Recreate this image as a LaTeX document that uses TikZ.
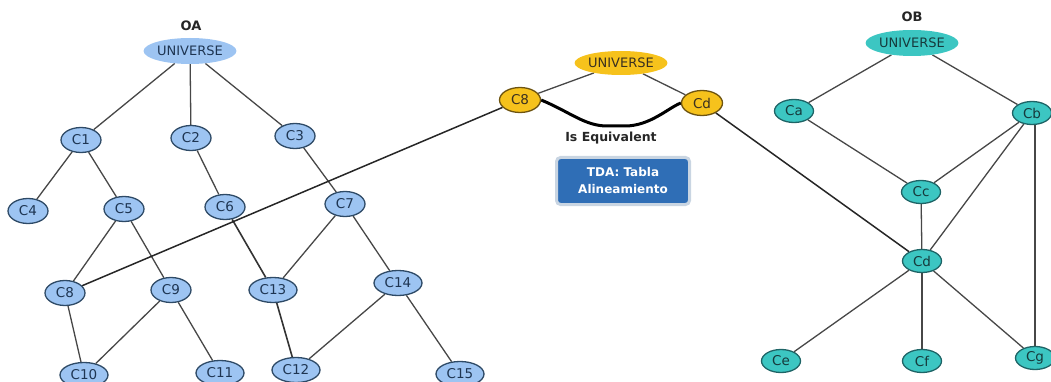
\documentclass[tikz,border=0pt]{standalone}
\usepackage{fontspec}
\setmainfont{DejaVu Sans}
\usetikzlibrary{shapes.geometric,backgrounds}

\definecolor{oafill}{HTML}{9DC4F2}
\definecolor{oadraw}{HTML}{2E4A66}
\definecolor{oatext}{HTML}{1E3552}
\definecolor{obfill}{HTML}{3CC6C2}
\definecolor{obdraw}{HTML}{1E6466}
\definecolor{obtext}{HTML}{163A3C}
\definecolor{alfill}{HTML}{F6C21C}
\definecolor{aldraw}{HTML}{6E5410}
\definecolor{altext}{HTML}{3A3020}
\definecolor{edgecol}{HTML}{474747}
\definecolor{tdafill}{HTML}{2F6EB6}
\definecolor{tdaedge}{HTML}{C9D5E2}

\tikzset{
  cls/.style={ellipse, inner sep=0pt, minimum height=25pt, line width=1.3pt,
    font=\fontsize{13.5}{15}\selectfont},
  oa/.style={cls, fill=oafill, draw=oadraw, text=oatext, minimum width=40pt},
  oaw/.style={oa, minimum width=48pt},
  ob/.style={cls, fill=obfill, draw=obdraw, text=obtext, minimum width=39pt, minimum height=23pt},
  al/.style={cls, fill=alfill, draw=aldraw, text=altext, minimum width=41pt},
  root/.style={ellipse, inner sep=0pt, minimum width=80pt, minimum height=26pt,
    fill=#1, font=\fontsize{13}{15}\selectfont},
  title/.style={font=\bfseries\fontsize{13}{15}\selectfont, text=black!85},
  edge/.style={draw=edgecol, line width=1.3pt},
  link/.style={draw=black!85, line width=1.5pt},
}

\begin{document}
\begin{tikzpicture}[x=1pt,y=-1pt]
\useasboundingbox (0,0) rectangle (1051,382);
\clip (0,0) rectangle (1051,382);

% ---------- ontology OA ----------
\node[title] (oalabel) at (191,26) {OA};
\node[root=oafill, text=oatext] (ua) at (190,51) {UNIVERSE};
\node[oa] (c1) at (81,140) {C1};
\node[oa] (c2) at (191,138) {C2};
\node[oa] (c3) at (295,136) {C3};
\node[oa] (c4) at (28,211) {C4};
\node[oa] (c5) at (124,209) {C5};
\node[oa] (c6) at (225,207) {C6};
\node[oa] (c7) at (345,204) {C7};
\node[oa] (c8) at (65,293) {C8};
\node[oa] (c9) at (171,290) {C9};
\node[oaw] (c13) at (273,290) {C13};
\node[oaw] (c14) at (398,283) {C14};
\node[oaw] (c10) at (84,375) {C10};
\node[oaw] (c11) at (220,373) {C11};
\node[oaw] (c12) at (296,370) {C12};
\node[oaw] (c15) at (460,374) {C15};

% ---------- ontology OB ----------
\node[title] (oblabel) at (912,17) {OB};
\node[root=obfill, text=obtext] (ub) at (912,43) {UNIVERSE};
\node[ob] (ca) at (794,111) {Ca};
\node[ob] (cb) at (1032,113) {Cb};
\node[ob] (cc) at (921,192) {Cc};
\node[ob] (cdb) at (922,261) {Cd};
\node[ob] (ce) at (781,361) {Ce};
\node[ob] (cf) at (922,361) {Cf};
\node[ob] (cg) at (1035,358) {Cg};

% ---------- alignment ----------
\node[root=alfill, text=altext, minimum width=77pt, minimum height=24pt] (um) at (621,63) {UNIVERSE};
\node[al] (a8) at (520,100) {C8};
\node[al] (ad) at (702,103) {Cd};
\node[font=\bfseries\fontsize{12.5}{14}\selectfont, text=black!85] (equiv) at (611,138) {Is Equivalent};
\node[draw=tdaedge, line width=3pt, fill=tdafill, rounded corners=4pt,
      minimum width=133pt, minimum height=47pt, text=white, align=center,
      font=\bfseries\fontsize{12}{17}\selectfont] (tda) at (623,181)
      {TDA: Tabla\\Alineamiento};

% ---------- connectors, kept behind the nodes ----------
\begin{scope}[on background layer]
\foreach \a/\b in {ua/c1, ua/c2, ua/c3, c1/c4, c1/c5, c2/c6, c3/c7, c5/c8, c5/c9,
                   c7/c13, c7/c14, c8/c10, c9/c10, c9/c11, c14/c12, c14/c15}
  \draw[edge] (\a) -- (\b);
\draw[edge, draw=black!80, line width=1.6pt] (c6) -- (c13);
\draw[edge, draw=black!80, line width=1.6pt] (c13) -- (c12);

\foreach \a/\b in {ub/ca, ub/cb, ca/cc, cb/cc, cb/cdb, cc/cdb, cdb/ce, cdb/cf, cdb/cg}
  \draw[edge] (\a) -- (\b);
\draw[edge] (cb.south -| cg) -- (cg);

\draw[edge] (um) -- (a8);
\draw[edge] (um) -- (ad);
\draw[black, line width=3pt] (a8.east) .. controls (570,112) and (585,126) .. (607,126)
   -- (625,126) .. controls (650,126) and (668,108) .. (ad.west);

\draw[link] (c8) -- (a8);
\draw[link] (ad) -- (cdb);
\end{scope}
\end{tikzpicture}
\end{document}
